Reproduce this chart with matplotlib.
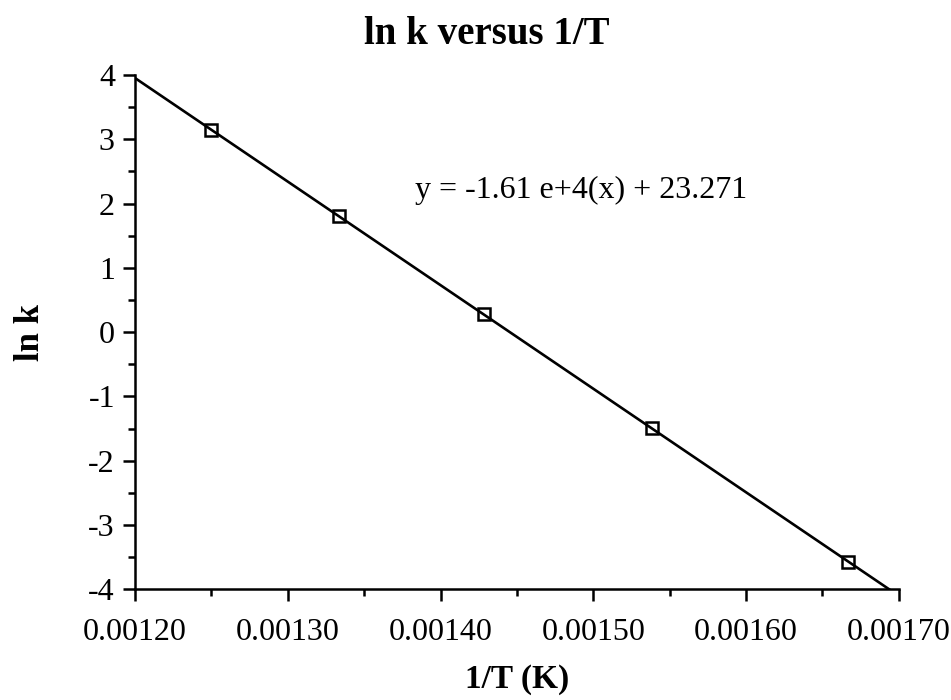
import numpy as np
import matplotlib
matplotlib.use("Agg")
import matplotlib.pyplot as plt
from matplotlib.ticker import MultipleLocator, FormatStrFormatter

# data
inv_T = [1/800., 1/750., 1/700., 1/650., 1/600.]
ln_k = [3.14, 1.81, 0.28, -1.49, -3.58]

# fit line as printed on the chart
slope = -1.61e4
intercept = 23.271
fit_x = np.array([0.00120, (-4.0 - intercept) / slope])

plt.rcParams['font.family'] = ['Liberation Serif', 'DejaVu Serif']
plt.rcParams['axes.unicode_minus'] = False

fig = plt.figure(figsize=(9.51, 7.0), dpi=100)
ax = fig.add_axes([0.142, 0.158, 0.803, 0.735])

ax.plot(fit_x, slope * fit_x + intercept, color='black', lw=1.9)
ax.plot(inv_T, ln_k, linestyle='none', marker='s', ms=8.5,
        mfc='none', mec='black', mew=1.8)

ax.text(0.001383, 2.21, 'y = -1.61 e+4(x) + 23.271', fontsize=23,
        va='center', ha='left')

ax.set_xlim(0.00120, 0.00170)
ax.set_ylim(-4, 4)
ax.xaxis.set_major_locator(MultipleLocator(0.0001))
ax.xaxis.set_minor_locator(MultipleLocator(0.00005))
ax.xaxis.set_major_formatter(FormatStrFormatter('%.5f'))
ax.yaxis.set_major_locator(MultipleLocator(1))
ax.yaxis.set_minor_locator(MultipleLocator(0.5))

for s in ['top', 'right']:
    ax.spines[s].set_visible(False)
for s in ['left', 'bottom']:
    ax.spines[s].set_linewidth(1.8)

ax.tick_params(which='major', direction='out', length=8.5, width=1.8,
               labelsize=23, pad=6)
ax.tick_params(axis='x', which='major', pad=12)
ax.tick_params(which='minor', direction='out', length=5, width=1.8)

ax.set_title('ln k versus 1/T', fontsize=28, fontweight='bold', pad=22, x=0.46)
ax.set_xlabel('1/T (K)', fontsize=24, fontweight='bold', labelpad=12)
ax.set_ylabel('ln k', fontsize=25, fontweight='bold', labelpad=30)

fig.savefig('out.png', dpi=100)
